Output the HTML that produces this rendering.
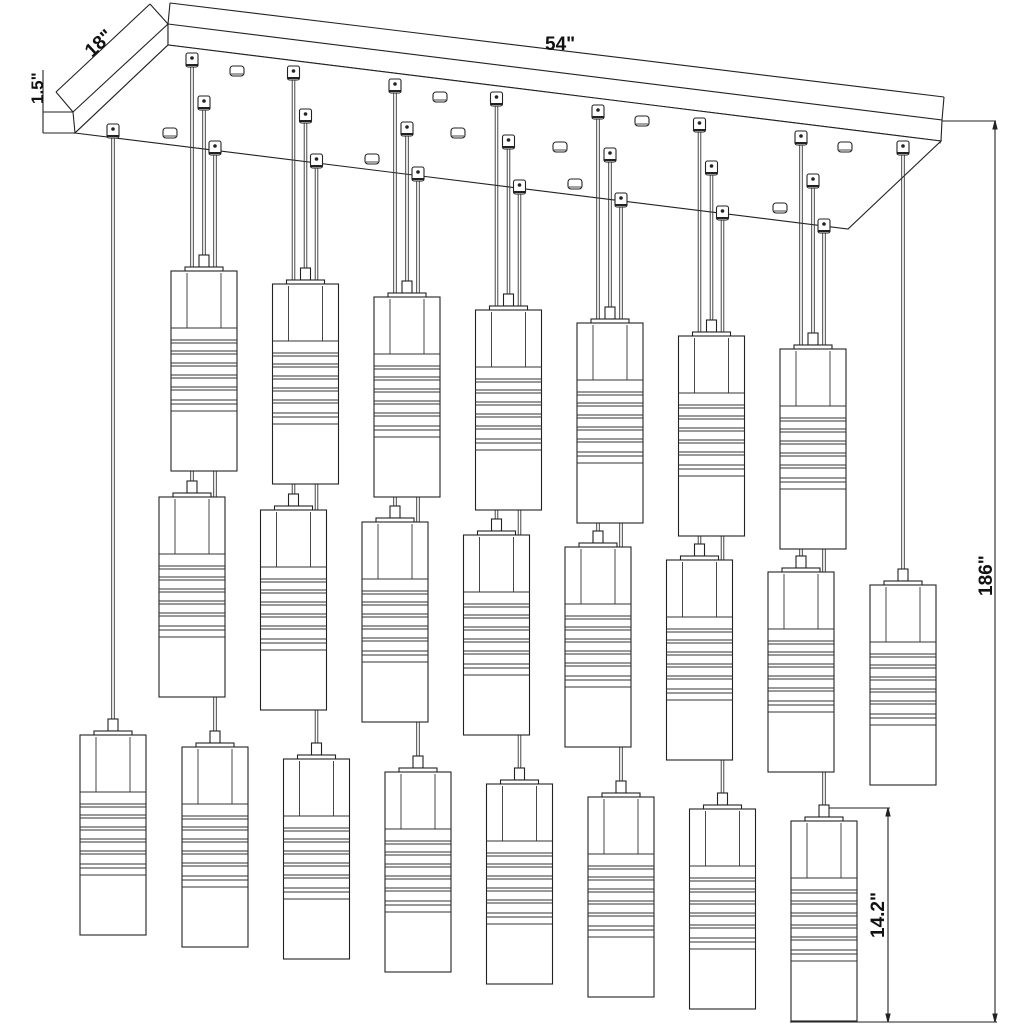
<!DOCTYPE html>
<html><head><meta charset="utf-8"><style>
html,body{margin:0;padding:0;background:#fff;}
svg{display:block}
text{font-family:"Liberation Sans",sans-serif;fill:#111;}
</style></head><body>
<svg id="s" width="1024" height="1024" viewBox="0 0 1024 1024" xmlns="http://www.w3.org/2000/svg">
<g id="base" fill="none" stroke="#222" stroke-width="1.1">
<polygon points="73,112 168,24 168,45 75,133" fill="#fff"/>
<polygon points="168,24 942,120 941,141 168,45" fill="#fff"/>
<line x1="168" y1="47" x2="941" y2="143" stroke-width="0.8"/>
<line x1="77" y1="131" x2="168" y2="47" stroke-width="0.8"/>
<polygon points="75,133 168,45 941,141 848,229" fill="#fff"/>
<line x1="170" y1="3" x2="944" y2="97"/>
<line x1="170" y1="3" x2="168" y2="24"/>
<line x1="944" y1="97" x2="942" y2="120"/>
<line x1="56" y1="92" x2="150" y2="4"/>
<line x1="56" y1="92" x2="73" y2="112"/>
<line x1="150" y1="4" x2="168" y2="24"/>
<line x1="43" y1="112" x2="73" y2="112"/>
<line x1="43" y1="133" x2="75" y2="133"/>
<line x1="43" y1="70" x2="43" y2="133"/>
<line x1="942" y1="121" x2="996" y2="121"/>
<line x1="995" y1="121" x2="995" y2="1022"/>
<line x1="790" y1="1022" x2="997" y2="1022"/>
<polygon points="995,121 993,129 997,129" fill="#222"/>
<polygon points="995,1022 993,1014 997,1014" fill="#222"/>
<line x1="826" y1="808" x2="890" y2="808"/>
<line x1="888" y1="808" x2="888" y2="1022"/>
<polygon points="888,808 886,816 890,816" fill="#222"/>
<polygon points="888,1022 886,1014 890,1014" fill="#222"/>
</g>
<g id="dyn"></g>
<text x="545" y="50" font-size="19" font-weight="bold">54"</text>
<text transform="translate(92,58) rotate(-43)" font-size="19" font-weight="bold">18"</text>
<text transform="translate(43,104) rotate(-90)" font-size="17" font-weight="bold">1.5"</text>
<text transform="translate(992,596) rotate(-90)" font-size="19" font-weight="bold">186"</text>
<text transform="translate(884,938) rotate(-90)" font-size="19" font-weight="bold">14.2"</text>
</svg>
<script>
var o='';
var S='stroke="#222" stroke-width="1.1"';
var T='stroke="#333" stroke-width="0.9"';
function hole(x,y){o+='<rect x="'+(x-7)+'" y="'+(y-5)+'" width="14" height="10" rx="3" fill="#fff" '+S+'/><line x1="'+(x-6)+'" y1="'+(y+3)+'" x2="'+(x+6)+'" y2="'+(y+3)+'" '+T+'/>';}
[[237,71],[170,133],[372,159],[440,97],[458,133],[560,147],[575,184],[642,121],[780,208],[845,147]].forEach(function(h){hole(h[0],h[1]);});
function wire(x,y1,y2){o+='<line x1="'+(x-1.3)+'" y1="'+y1+'" x2="'+(x-1.3)+'" y2="'+y2+'" '+T+'/><line x1="'+(x+1.3)+'" y1="'+y1+'" x2="'+(x+1.3)+'" y2="'+y2+'" '+T+'/>';}
function mount(x,y){o+='<rect x="'+(x-6)+'" y="'+(y-7)+'" width="12" height="14" rx="2" fill="#fff" '+S+'/><line x1="'+(x-6)+'" y1="'+(y+5)+'" x2="'+(x+6)+'" y2="'+(y+5)+'" stroke="#222" stroke-width="2"/><circle cx="'+x+'" cy="'+(y-2)+'" r="1.8" fill="#222"/>';}
function pend(x,t){var c=x+33,w=66;
o+='<rect x="'+(c-5)+'" y="'+(t-16)+'" width="10" height="12" fill="#fff" '+S+'/>';
o+='<rect x="'+(c-19)+'" y="'+(t-4)+'" width="38" height="6" fill="#fff" '+S+'/>';
o+='<rect x="'+x+'" y="'+t+'" width="'+w+'" height="200" fill="#fff" '+S+'/>';
o+='<line x1="'+(x+16)+'" y1="'+(t+2)+'" x2="'+(x+16)+'" y2="'+(t+57)+'" '+T+'/><line x1="'+(x+50)+'" y1="'+(t+2)+'" x2="'+(x+50)+'" y2="'+(t+57)+'" '+T+'/>';
[57,69,72,80,83,92,95,104,107,116,119,129,133,140].forEach(function(d){o+='<line x1="'+x+'" y1="'+(t+d)+'" x2="'+(x+w)+'" y2="'+(t+d)+'" '+T+'/>';});
}
var P=[],M=[];
for(var k=0;k<7;k++){
 var dx=101.5*k,dy=13*k;
 var tT=271+dy, tM=Math.round(497+12.5*(k)), tB=Math.round(747+12.4*k);
 var xT=171+dx, xM=159+dx, xB=182+dx;
 M.push([xM+33,60+dy,tM-16]);M.push([xT+33,103+dy,tT-16]);M.push([xB+33,148+dy,tB-16]);
 P.push([xT,tT]);P.push([xM,tM]);P.push([xB,tB]);
}
M.push([113,131,719]);P.push([80,735]);
M.push([903,148,569]);P.push([870,585]);
M.forEach(function(m){wire(m[0],m[1],m[2]);});
M.forEach(function(m){mount(m[0],m[1]);});
P.forEach(function(p){pend(p[0],p[1]);});
document.getElementById('dyn').innerHTML=o;
</script>
</body></html>
